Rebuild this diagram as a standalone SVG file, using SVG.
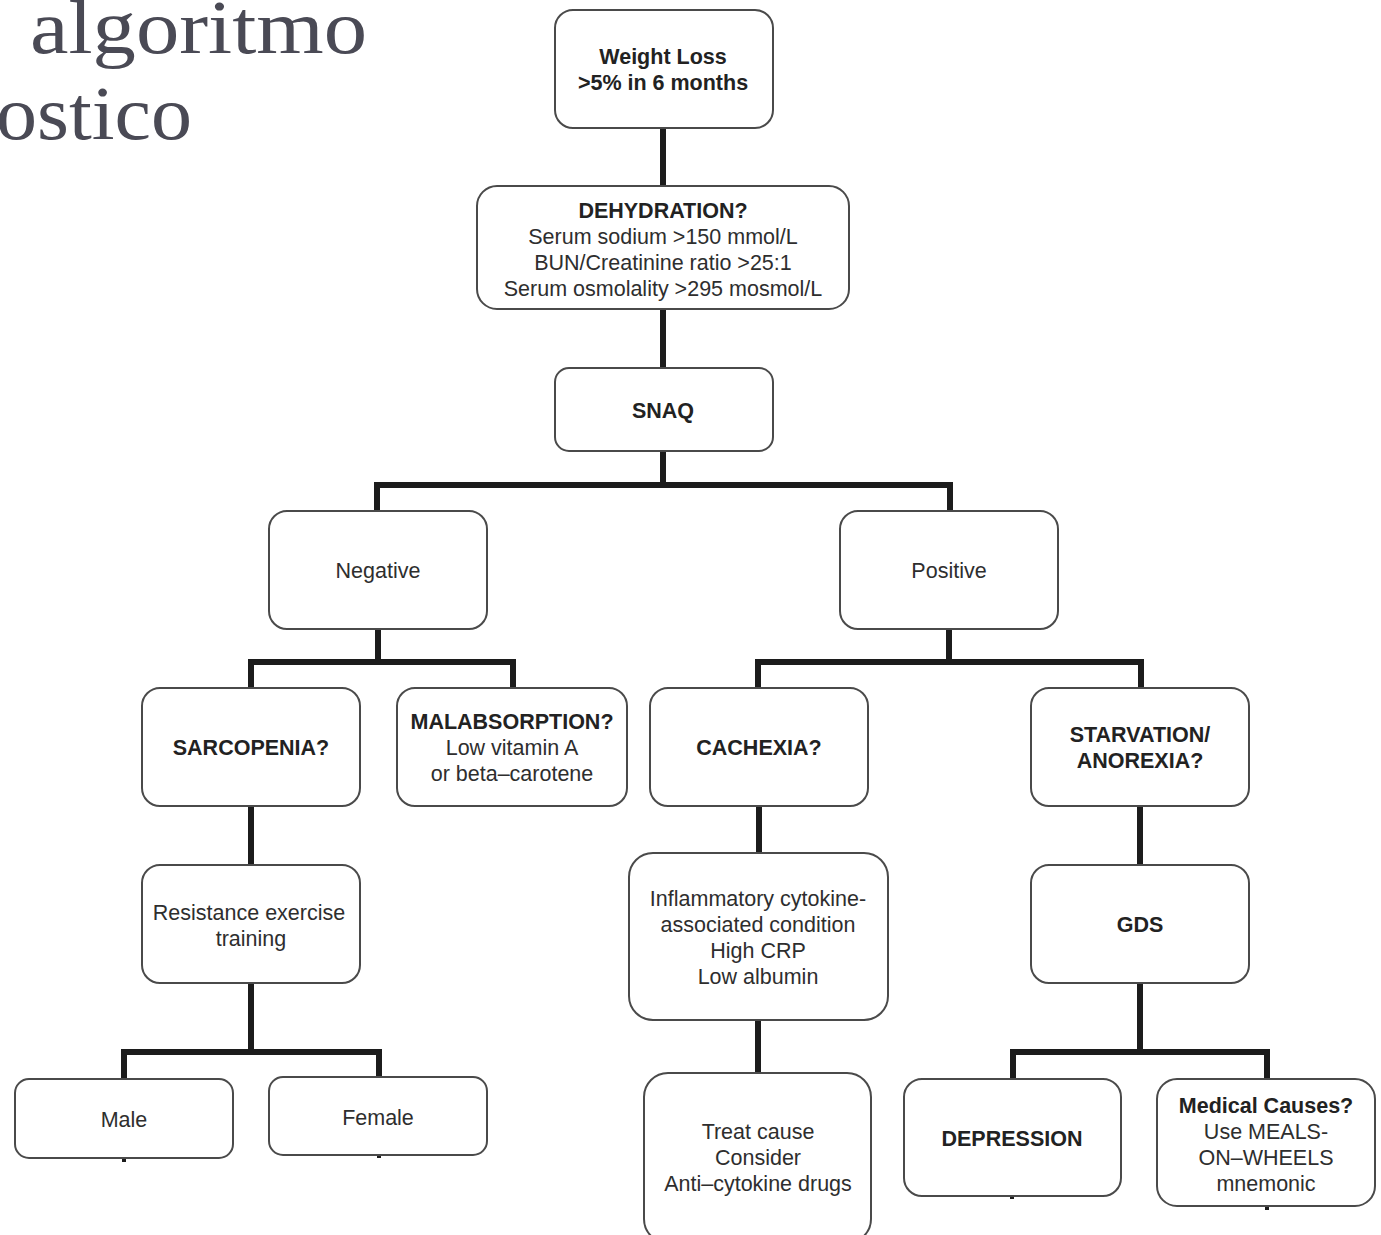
<svg xmlns="http://www.w3.org/2000/svg" width="1381" height="1235" viewBox="0 0 1381 1235">
  <style>
    .box { fill: #ffffff; stroke: #4a4a4a; stroke-width: 2; }
    .t { font-family: "Liberation Sans", Arial, sans-serif; font-size: 21.5px; fill: #2e2e2e; text-anchor: middle; }
    .b { font-weight: bold; fill: #222; }
    .title { font-family: "Liberation Serif", "DejaVu Serif", serif; font-size: 76px; fill: #4a4a55; }
    .wire { fill: none; stroke: #1c1c1c; stroke-width: 6; stroke-linecap: butt; stroke-linejoin: miter; }
  </style>
  <rect width="1381" height="1235" fill="#ffffff"/>

  <!-- heading -->
  <text class="title" x="30" y="53" textLength="337" lengthAdjust="spacingAndGlyphs">algoritmo</text>
  <text class="title" x="-4" y="139" textLength="196" lengthAdjust="spacingAndGlyphs">ostico</text>

  <!-- connectors -->
  <g id="connectors" class="wire">
    <path d="M663 128 V186"/>
    <path d="M663 309 V368"/>
    <path d="M663 451 V485 M377 511 V485 H950 V511"/>
    <path d="M378 629 V662 M251 688 V662 H513 V688"/>
    <path d="M949 629 V662 M758 688 V662 H1141 V688"/>
    <path d="M251 806 V865"/>
    <path d="M759 806 V853"/>
    <path d="M1140 806 V865"/>
    <path d="M251 983 V1052 M124 1079 V1052 H379 V1077"/>
    <path d="M758 1020 V1073"/>
    <path d="M1140 983 V1052 M1013 1079 V1052 H1267 V1079"/>
    <path d="M124 1158 V1162 M379 1155 V1158 M1012 1196 V1199 M1267 1206 V1210" stroke-width="4"/>
  </g>

  <g id="weight-loss">
    <rect class="box" x="555" y="10" width="218" height="118" rx="18"/>
    <text class="t b" x="663" y="64">Weight Loss</text>
    <text class="t b" x="663" y="90">&gt;5% in 6 months</text>
  </g>

  <g id="dehydration">
    <rect class="box" x="477" y="186" width="372" height="123" rx="20"/>
    <text class="t b" x="663" y="218">DEHYDRATION?</text>
    <text class="t" x="663" y="244">Serum sodium &gt;150 mmol/L</text>
    <text class="t" x="663" y="270">BUN/Creatinine ratio &gt;25:1</text>
    <text class="t" x="663" y="296">Serum osmolality &gt;295 mosmol/L</text>
  </g>

  <g id="snaq">
    <rect class="box" x="555" y="368" width="218" height="83" rx="14"/>
    <text class="t b" x="663" y="418">SNAQ</text>
  </g>

  <g id="negative">
    <rect class="box" x="269" y="511" width="218" height="118" rx="18"/>
    <text class="t" x="378" y="578">Negative</text>
  </g>

  <g id="positive">
    <rect class="box" x="840" y="511" width="218" height="118" rx="18"/>
    <text class="t" x="949" y="578">Positive</text>
  </g>

  <g id="sarcopenia">
    <rect class="box" x="142" y="688" width="218" height="118" rx="18"/>
    <text class="t b" x="251" y="755">SARCOPENIA?</text>
  </g>

  <g id="malabsorption">
    <rect class="box" x="397" y="688" width="230" height="118" rx="18"/>
    <text class="t b" x="512" y="729">MALABSORPTION?</text>
    <text class="t" x="512" y="755">Low vitamin A</text>
    <text class="t" x="512" y="781">or beta–carotene</text>
  </g>

  <g id="cachexia">
    <rect class="box" x="650" y="688" width="218" height="118" rx="18"/>
    <text class="t b" x="759" y="755">CACHEXIA?</text>
  </g>

  <g id="starvation">
    <rect class="box" x="1031" y="688" width="218" height="118" rx="18"/>
    <text class="t b" x="1140" y="742">STARVATION/</text>
    <text class="t b" x="1140" y="768">ANOREXIA?</text>
  </g>

  <g id="resistance">
    <rect class="box" x="142" y="865" width="218" height="118" rx="18"/>
    <text class="t" x="249" y="920">Resistance exercise</text>
    <text class="t" x="251" y="946">training</text>
  </g>

  <g id="inflammatory">
    <rect class="box" x="629" y="853" width="259" height="167" rx="24"/>
    <text class="t" x="758" y="906">Inflammatory cytokine-</text>
    <text class="t" x="758" y="932">associated condition</text>
    <text class="t" x="758" y="958">High CRP</text>
    <text class="t" x="758" y="984">Low albumin</text>
  </g>

  <g id="gds">
    <rect class="box" x="1031" y="865" width="218" height="118" rx="18"/>
    <text class="t b" x="1140" y="932">GDS</text>
  </g>

  <g id="male">
    <rect class="box" x="15" y="1079" width="218" height="79" rx="14"/>
    <text class="t" x="124" y="1127">Male</text>
  </g>

  <g id="female">
    <rect class="box" x="269" y="1077" width="218" height="78" rx="14"/>
    <text class="t" x="378" y="1125">Female</text>
  </g>

  <g id="treat-cause">
    <rect class="box" x="644" y="1073" width="227" height="170" rx="24"/>
    <text class="t" x="758" y="1139">Treat cause</text>
    <text class="t" x="758" y="1165">Consider</text>
    <text class="t" x="758" y="1191">Anti–cytokine drugs</text>
  </g>

  <g id="depression">
    <rect class="box" x="904" y="1079" width="217" height="117" rx="18"/>
    <text class="t b" x="1012" y="1146">DEPRESSION</text>
  </g>

  <g id="medical-causes">
    <rect class="box" x="1157" y="1079" width="218" height="127" rx="20"/>
    <text class="t b" x="1266" y="1113">Medical Causes?</text>
    <text class="t" x="1266" y="1139">Use MEALS-</text>
    <text class="t" x="1266" y="1165">ON–WHEELS</text>
    <text class="t" x="1266" y="1191">mnemonic</text>
  </g>
</svg>
